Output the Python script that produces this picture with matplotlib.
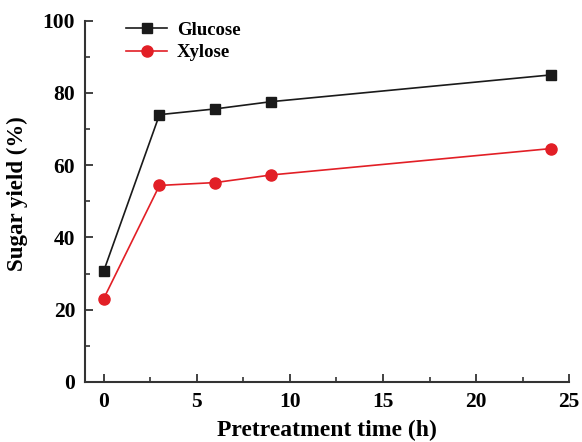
import matplotlib
matplotlib.use("Agg")
import matplotlib.pyplot as plt
from matplotlib.ticker import MultipleLocator

# pretreatment time (h) and sugar yields (%)
time_h = [0, 3, 6, 9, 24]
glucose = [30.6, 74.0, 75.6, 77.6, 85.0]
xylose = [23.0, 54.4, 55.2, 57.3, 64.6]

plt.rcParams['font.family'] = ['Liberation Serif', 'DejaVu Serif']
plt.rcParams['font.weight'] = 'bold'

fig = plt.figure(figsize=(5.82, 4.42), dpi=100)
ax = fig.add_axes([0.146, 0.136, 0.832, 0.817])

ax.plot(time_h, glucose, color='#1a1a1a', lw=1.2, marker='s', ms=7,
        label='Glucose')
ax.plot(time_h, xylose, color='#e21f26', lw=1.2, marker='o', ms=8,
        label='Xylose')

ax.set_xlim(-1, 25)
ax.set_ylim(0, 100)
ax.xaxis.set_major_locator(MultipleLocator(5))
ax.xaxis.set_minor_locator(MultipleLocator(2.5))
ax.yaxis.set_major_locator(MultipleLocator(20))
ax.yaxis.set_minor_locator(MultipleLocator(10))

for side in ['top', 'right']:
    ax.spines[side].set_visible(False)
for side in ['left', 'bottom']:
    ax.spines[side].set_linewidth(1.5)
    ax.spines[side].set_color('#333333')

ax.tick_params(which='major', direction='in', length=6, width=1.3,
               labelsize=15.5, color='#333333', pad=7)
ax.tick_params(which='minor', direction='in', length=3.5, width=1.2,
               color='#333333')
for lab in ax.get_xticklabels() + ax.get_yticklabels():
    lab.set_fontweight('bold')

ax.set_xlabel('Pretreatment time (h)', fontsize=17, fontweight='bold',
              labelpad=6)
ax.set_ylabel('Sugar yield (%)', fontsize=16.5, fontweight='bold')
ax.yaxis.set_label_coords(-0.117, 0.52)

leg = ax.legend(loc='upper left', bbox_to_anchor=(0.05, 1.045), frameon=False,
                prop={'size': 13.5, 'weight': 'bold'}, handlelength=2.2,
                handletextpad=0.5, labelspacing=0.3)

fig.savefig('out.png', dpi=100)
